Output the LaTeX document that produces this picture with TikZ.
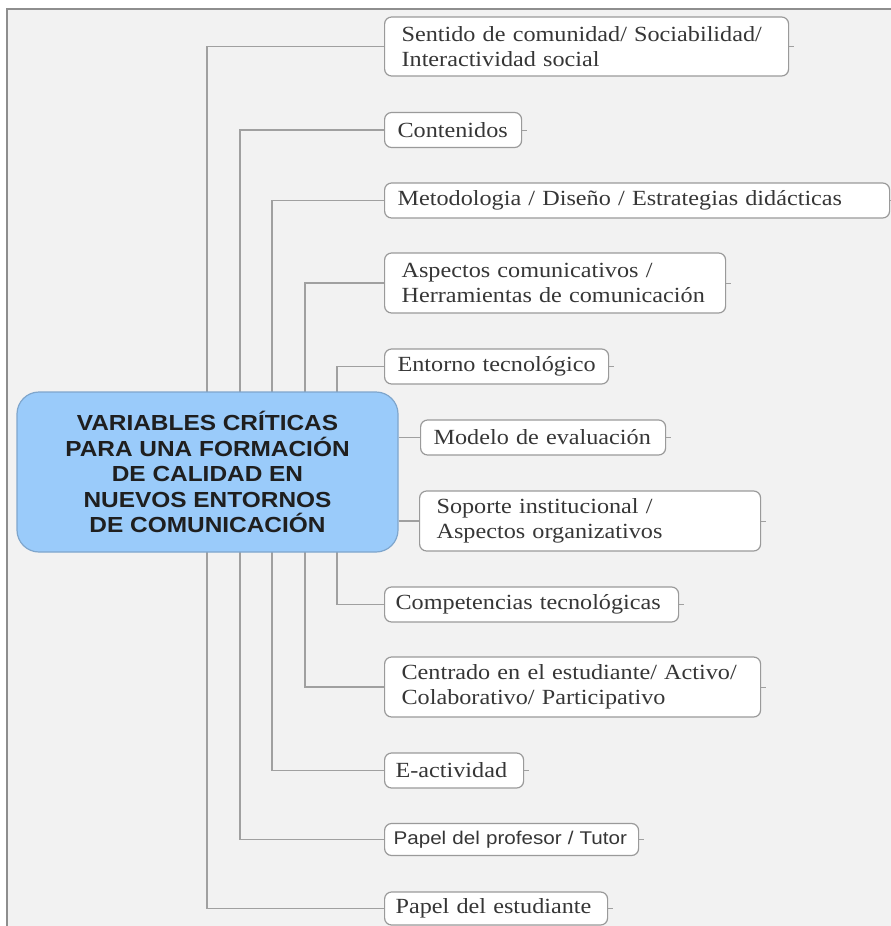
\documentclass[tikz,border=0pt]{standalone}
\usepackage{fontspec}
\setmainfont{Liberation Serif}
\newfontfamily\leaffont[FakeStretch=1.12]{Liberation Serif}
\newfontfamily\leafsans[FakeStretch=1.12]{Liberation Sans}
\newfontfamily\hubfont[FakeStretch=1.12]{Liberation Sans}
\definecolor{pagebg}{HTML}{F2F2F2}
\definecolor{framegray}{HTML}{8E8E8E}
\definecolor{boxgray}{HTML}{9A9A9A}
\definecolor{linegray}{HTML}{A0A0A0}
\definecolor{hubfill}{HTML}{9ACBFA}
\definecolor{hubedge}{HTML}{7FA6CC}
\definecolor{leaftext}{HTML}{363636}
\tikzset{
  leaf/.style={draw=boxgray, line width=1.2pt, fill=white, rounded corners=7pt,
    anchor=west, align=left, inner xsep=13pt, inner ysep=0pt,
    text=leaftext, font=\leaffont\fontsize{21.6}{25.5}\selectfont},
  wideleaf/.style={leaf, inner xsep=17pt},
  hub/.style={draw=hubedge, line width=1.2pt, fill=hubfill, rounded corners=22pt,
    align=center, text=black!88, minimum width=381pt, minimum height=160pt,
    font=\hubfont\bfseries\fontsize{21.8}{25.5}\selectfont},
  conn/.style={draw=linegray, line width=1.3pt},
  tick/.style={draw=linegray, line width=1pt}
}
\begin{document}
\begin{tikzpicture}[x=1pt, y=-1pt]
\useasboundingbox (0,0) rectangle (891,926);
% page and frame
\fill[white] (0,0) rectangle (891,926);
\fill[pagebg] (7,9) rectangle (891,926);
\draw[framegray, line width=1.6pt] (7,926) -- (7,9) -- (891,9);

% branch boxes
\node[wideleaf, text width=370pt, minimum height=59pt] (s1) at (384,46.5)
  {Sentido de comunidad/ Sociabilidad/\\Interactividad social};
\node[leaf, text width=111pt, minimum height=35pt] (s2) at (384,130) {Contenidos};
\node[leaf, text width=479pt, minimum height=35pt] (s3) at (384,200.5)
  {Metodologia / Diseño / Estrategias didácticas};
\node[wideleaf, text width=307pt, minimum height=60pt] (s4) at (384,283)
  {Aspectos comunicativos /\\Herramientas de comunicación};
\node[leaf, text width=198pt, minimum height=35pt] (s5) at (384,366.5) {Entorno tecnológico};
\node[leaf, text width=219pt, minimum height=35pt] (s6) at (420,437.5) {Modelo de evaluación};
\node[wideleaf, text width=307pt, minimum height=60pt] (s7) at (419,521)
  {Soporte institucional /\\Aspectos organizativos};
\node[leaf, inner xsep=11pt, text width=272pt, minimum height=35pt] (s8) at (384,604.5)
  {Competencias tecnológicas};
\node[wideleaf, text width=342pt, minimum height=60pt] (s9) at (384,687)
  {Centrado en el estudiante/ Activo/\\Colaborativo/ Participativo};
\node[leaf, inner xsep=11pt, text width=117pt, minimum height=35pt] (s10) at (384,770.5) {E-actividad};
\node[leaf, inner xsep=9pt, text width=236pt, minimum height=32pt,
  font=\leafsans\fontsize{18.4}{22}\selectfont] (s11) at (384,839.5) {Papel del profesor / Tutor};
\node[leaf, inner xsep=11pt, text width=201pt, minimum height=33pt] (s12) at (384,908.5)
  {Papel del estudiante};

% trunk positions of the nested brackets
\coordinate (t1) at (207,472);
\coordinate (t2) at (240,472);
\coordinate (t3) at (272,472);
\coordinate (t4) at (305,472);
\coordinate (t5) at (337,472);

\draw[conn] (s1.west) -| (t1) |- (s12.west);
\draw[conn] (s2.west) -| (t2) |- (s11.west);
\draw[conn] (s3.west) -| (t3) |- (s10.west);
\draw[conn] (s4.west) -| (t4) |- (s9.west);
\draw[conn] (s5.west) -| (t5) |- (s8.west);

% central topic
\node[hub] (hub) at (207.5,472)
  {VARIABLES CRÍTICAS\\PARA UNA FORMACIÓN\\DE CALIDAD EN\\NUEVOS ENTORNOS\\DE COMUNICACIÓN};

\draw[conn] (hub.east |- s6.west) -- (s6.west);
\draw[conn] (hub.east |- s7.west) -- (s7.west);

% small stubs on the right edge of each box
\foreach \n in {s1,s2,s3,s4,s5,s6,s7,s8,s9,s10,s11,s12}
  \draw[tick] (\n.east) -- ++(5,0);
\end{tikzpicture}
\end{document}
